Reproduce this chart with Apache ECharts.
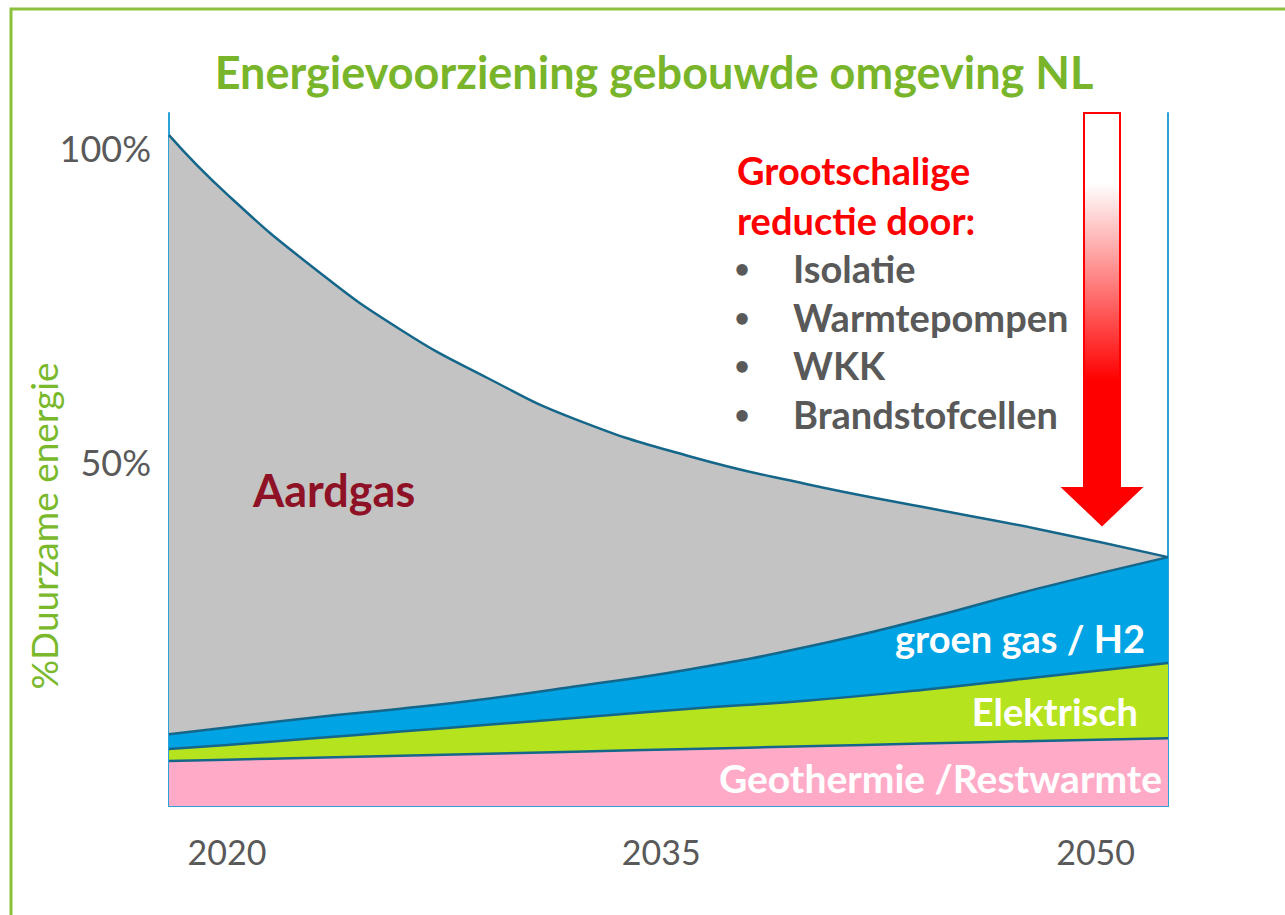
<!DOCTYPE html>
<html>
<head>
<meta charset="utf-8">
<script src="https://cdn.jsdelivr.net/npm/echarts@6/dist/echarts.min.js"></script>
<style>
html, body { margin: 0; padding: 0; background: #fff; }
#main { width: 1285px; height: 915px; }
</style>
</head>
<body>
<div id="main"></div>
<script>
var years = [2018, 2020, 2023, 2026, 2029, 2032, 2036, 2040, 2044, 2048, 2052.5];
var geothermie = [6.7, 6.9, 7.2, 7.5, 7.8, 8.1, 8.5, 8.9, 9.3, 9.7, 10.1];
var elektrisch = [1.8, 2.2, 2.9, 3.6, 4.3, 5.0, 6.0, 6.8, 8.0, 9.5, 11.2];
var groenGas = [2.2, 2.6, 3.1, 3.4, 3.9, 4.7, 5.9, 8.0, 10.5, 13.2, 15.8];
var aardgas = [89.3, 79.5, 67.0, 56.5, 47.8, 39.9, 31.7, 24.3, 16.8, 8.9, 0];
var yearLabels = [2020, 2035, 2050];
var reducties = ['Isolatie', 'Warmtepompen', 'WKK', 'Brandstofcellen'];

var myChart = echarts.init(document.getElementById('main'), null, { renderer: 'svg' });

// lagen zelf opstapelen: elke laag wordt tot de bovenkant van de vorige opgeteld
var lagen = [geothermie, elektrisch, groenGas, aardgas];
var cumul = [];
lagen.forEach(function (vals, k) {
	cumul.push(vals.map(function (v, i) {
		var onder = k > 0 ? cumul[k - 1][i][1] : 0;
		return [years[i], Math.round((onder + v) * 100) / 100];
	}));
});

var lineColor = '#14668a';
var axisBlue = '#2ba3d9';
var grey = '#595959';
var font = 'Lato, "Open Sans", sans-serif';

function area(name, data, color, z) {
	return {
		name: name,
		type: 'line',
		smooth: 0.5,
		symbol: 'none',
		z: z,
		data: data,
		lineStyle: { color: lineColor, width: 2.5 },
		areaStyle: { color: color, opacity: 1, origin: 'start' },
		itemStyle: { color: color }
	};
}

// labels in de grafiek
var graphics = [
	{ type: 'rect', shape: { x: 11, y: 9, width: 1400, height: 1000 }, style: { fill: 'none', stroke: '#8cc03c', lineWidth: 3 }, silent: true },
	{ type: 'text', x: 43, y: 526, rotation: Math.PI / 2, style: { text: '%Duurzame energie', fill: '#7ab82c', font: '37px ' + font, textAlign: 'center', textVerticalAlign: 'middle' } },
	{ type: 'text', x: 253, y: 490, z: 10, style: { text: 'Aardgas', fill: '#8e1126', font: 'bold 45px ' + font, textAlign: 'left', textVerticalAlign: 'middle' } },
	{ type: 'text', x: 1145, y: 638, z: 10, style: { text: 'groen gas / H2', fill: '#fff', font: 'bold 38px ' + font, textAlign: 'right', textVerticalAlign: 'middle' } },
	{ type: 'text', x: 1138, y: 711, z: 10, style: { text: 'Elektrisch', fill: '#fff', font: 'bold 38px ' + font, textAlign: 'right', textVerticalAlign: 'middle' } },
	{ type: 'text', x: 1162, y: 778, z: 10, style: { text: 'Geothermie /Restwarmte', fill: '#fff', font: 'bold 39px ' + font, textAlign: 'right', textVerticalAlign: 'middle' } },
	{ type: 'text', x: 737, y: 170, style: { text: 'Grootschalige', fill: '#ff0000', font: 'bold 38px ' + font, textAlign: 'left', textVerticalAlign: 'middle' } },
	{ type: 'text', x: 737, y: 220, style: { text: 'reductie door:', fill: '#ff0000', font: 'bold 38px ' + font, textAlign: 'left', textVerticalAlign: 'middle' } },
	{
		type: 'polygon',
		shape: { points: [[1084, 113], [1120, 113], [1120, 488], [1141, 488], [1102, 525], [1063, 488], [1084, 488]] },
		style: {
			fill: new echarts.graphic.LinearGradient(0, 0, 0, 1, [
				{ offset: 0, color: '#ffffff' },
				{ offset: 0.17, color: '#ffffff' },
				{ offset: 0.65, color: '#ff0000' },
				{ offset: 1, color: '#ff0000' }
			]),
			stroke: '#ff0000',
			lineWidth: 2
		}
	}
];
reducties.forEach(function (t, i) {
	var y = 268 + i * 48.5;
	graphics.push({ type: 'text', x: 742, y: y, style: { text: '•', fill: grey, font: 'bold 26px ' + font, textAlign: 'center', textVerticalAlign: 'middle' } });
	graphics.push({ type: 'text', x: 793, y: y, style: { text: t, fill: grey, font: 'bold 38px ' + font, textAlign: 'left', textVerticalAlign: 'middle' } });
});

var option = {
	backgroundColor: '#ffffff',
	animation: false,
	title: {
		text: 'Energievoorziening gebouwde omgeving NL',
		left: 649,
		top: 44,
		textAlign: 'center',
		textStyle: { color: '#78b52a', fontSize: 45, fontWeight: 'bold', fontFamily: font }
	},
	grid: { left: 169, right: 117, top: 113, bottom: 109 },
	xAxis: {
		type: 'value',
		min: 2018,
		max: 2052.5,
		axisLine: { show: true, lineStyle: { color: axisBlue, width: 2 } },
		axisTick: { show: false },
		splitLine: { show: false },
		axisLabel: {
			customValues: yearLabels,
			formatter: function (v) { return String(v); },
			color: grey,
			fontSize: 34,
			fontFamily: font,
			margin: 28
		}
	},
	yAxis: [
		{
			type: 'value',
			min: 0,
			max: 103.3,
			interval: 50,
			axisLine: { show: true, lineStyle: { color: axisBlue, width: 2 } },
			axisTick: { show: false },
			splitLine: { show: false },
			axisLabel: {
				margin: 18,
				formatter: function (v) {
					if (v === 100) return '{a|100%}';
					if (v === 50) return '{b|50%}';
					return '';
				},
				rich: {
					a: { color: grey, fontSize: 36, fontFamily: font, padding: [26, 0, 0, 0] },
					b: { color: grey, fontSize: 36, fontFamily: font, padding: [0, 0, 18, 0] }
				}
			}
		},
		{
			type: 'value',
			position: 'right',
			min: 0,
			max: 103.3,
			axisLine: { show: true, lineStyle: { color: axisBlue, width: 2 } },
			axisTick: { show: false },
			axisLabel: { show: false },
			splitLine: { show: false }
		}
	],
	graphic: graphics,
	series: [
		area('Aardgas', cumul[3], '#c3c3c3', 2),
		area('groen gas / H2', cumul[2], '#00a3e3', 3),
		area('Elektrisch', cumul[1], '#b5e31e', 4),
		area('Geothermie /Restwarmte', cumul[0], '#ffabc8', 5)
	]
};

myChart.setOption(option);
</script>
</body>
</html>
